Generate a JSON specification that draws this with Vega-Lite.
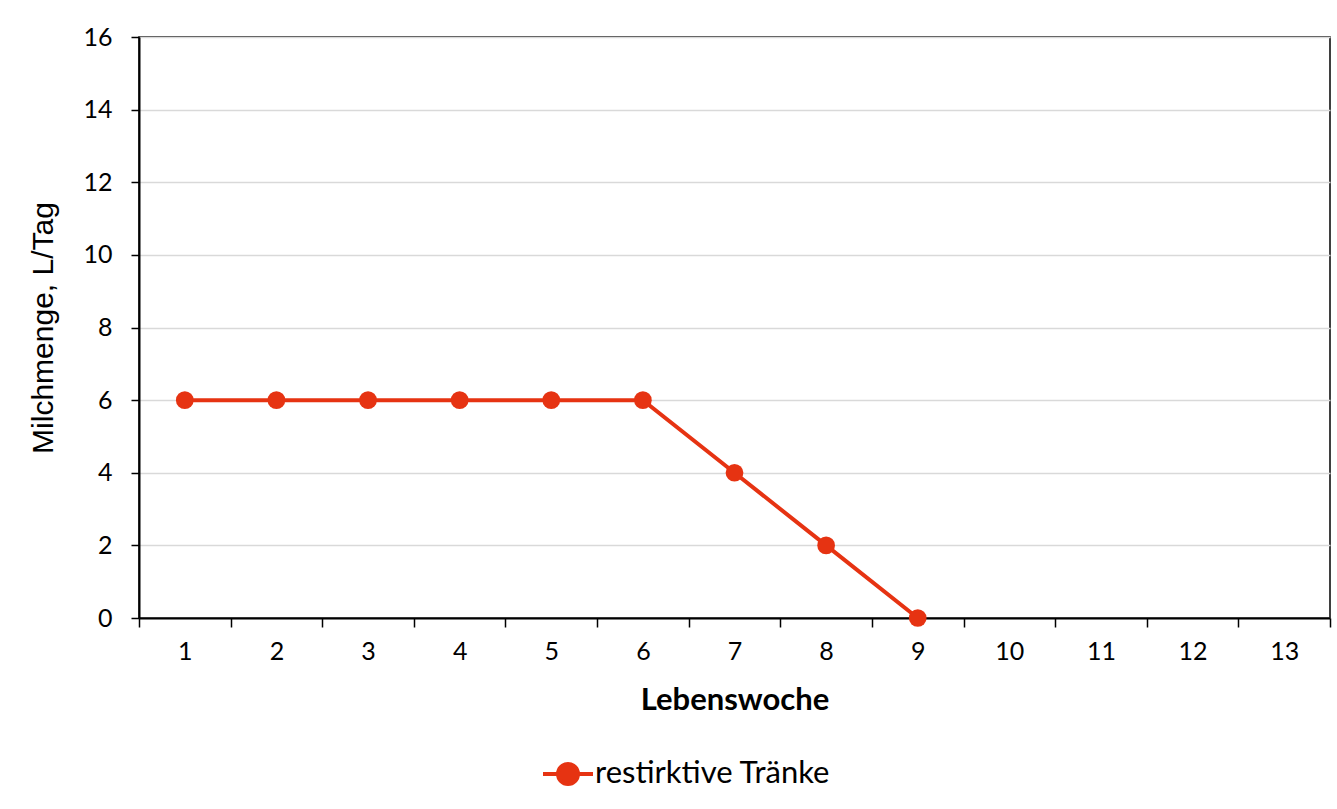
{
  "$schema": "https://vega.github.io/schema/vega-lite/v6.json",
  "width": 1191,
  "height": 581,
  "autosize": {"type": "none"},
  "padding": {"left": 139, "top": 37, "right": 7, "bottom": 191},
  "background": "white",
  "config": {
    "view": {"stroke": "black", "strokeWidth": 1.5},
    "font": "Lato",
    "axis": {
      "domainColor": "black",
      "domainWidth": 2,
      "tickColor": "black",
      "tickWidth": 1.5,
      "labelColor": "black",
      "titleColor": "black"
    }
  },
  "data": {
    "values": [
      {"woche": 1, "menge": 6, "serie": "restirktive Tränke"},
      {"woche": 2, "menge": 6, "serie": "restirktive Tränke"},
      {"woche": 3, "menge": 6, "serie": "restirktive Tränke"},
      {"woche": 4, "menge": 6, "serie": "restirktive Tränke"},
      {"woche": 5, "menge": 6, "serie": "restirktive Tränke"},
      {"woche": 6, "menge": 6, "serie": "restirktive Tränke"},
      {"woche": 7, "menge": 4, "serie": "restirktive Tränke"},
      {"woche": 8, "menge": 2, "serie": "restirktive Tränke"},
      {"woche": 9, "menge": 0, "serie": "restirktive Tränke"}
    ]
  },
  "encoding": {
    "x": {
      "field": "woche",
      "type": "ordinal",
      "scale": {"domain": [1,2,3,4,5,6,7,8,9,10,11,12,13], "paddingInner": 0, "paddingOuter": 0},
      "axis": {
        "title": "Lebenswoche",
        "labelAngle": 0,
        "tickBand": "extent",
        "tickSize": 9,
        "labelFontSize": 25,
        "labelPadding": 12,
        "titleFontSize": 31,
        "titleFontWeight": "bold",
        "titlePadding": 21,
        "grid": false
      }
    },
    "y": {
      "field": "menge",
      "type": "quantitative",
      "scale": {"domain": [0, 16], "nice": false},
      "axis": {
        "title": "Milchmenge, L/Tag",
        "values": [0,2,4,6,8,10,12,14,16],
        "tickSize": 8,
        "labelFontSize": 25,
        "labelPadding": 19,
        "grid": true,
        "gridColor": "#d9d9d9",
        "gridWidth": 1.5,
        "titleFont": "Liberation Sans",
        "titleFontSize": 30,
        "titleFontWeight": "normal",
        "titlePadding": 24
      }
    },
    "color": {
      "field": "serie",
      "type": "nominal",
      "scale": {"range": ["#E63312"]},
      "legend": {
        "title": null,
        "orient": "none",
        "legendX": 402,
        "legendY": 710,
        "padding": 0,
        "labelFontSize": 31,
        "labelLimit": 600,
        "labelColor": "black",
        "labelOffset": 0,
        "symbolType": "M-1,0H1M-0.4,0A0.4,0.4,0,1,1,0.4,0A0.4,0.4,0,1,1,-0.4,0Z",
        "symbolSize": 2500,
        "symbolStrokeWidth": 4,
        "encode": {
          "symbols": {"update": {"fill": {"value": "#E63312"}, "stroke": {"value": "#E63312"}, "strokeWidth": {"value": 4}, "opacity": {"value": 1}}}
        }
      }
    }
  },
  "layer": [
    {"mark": {"type": "line", "strokeWidth": 4}},
    {"mark": {"type": "point", "filled": true, "size": 314, "opacity": 1}}
  ]
}
